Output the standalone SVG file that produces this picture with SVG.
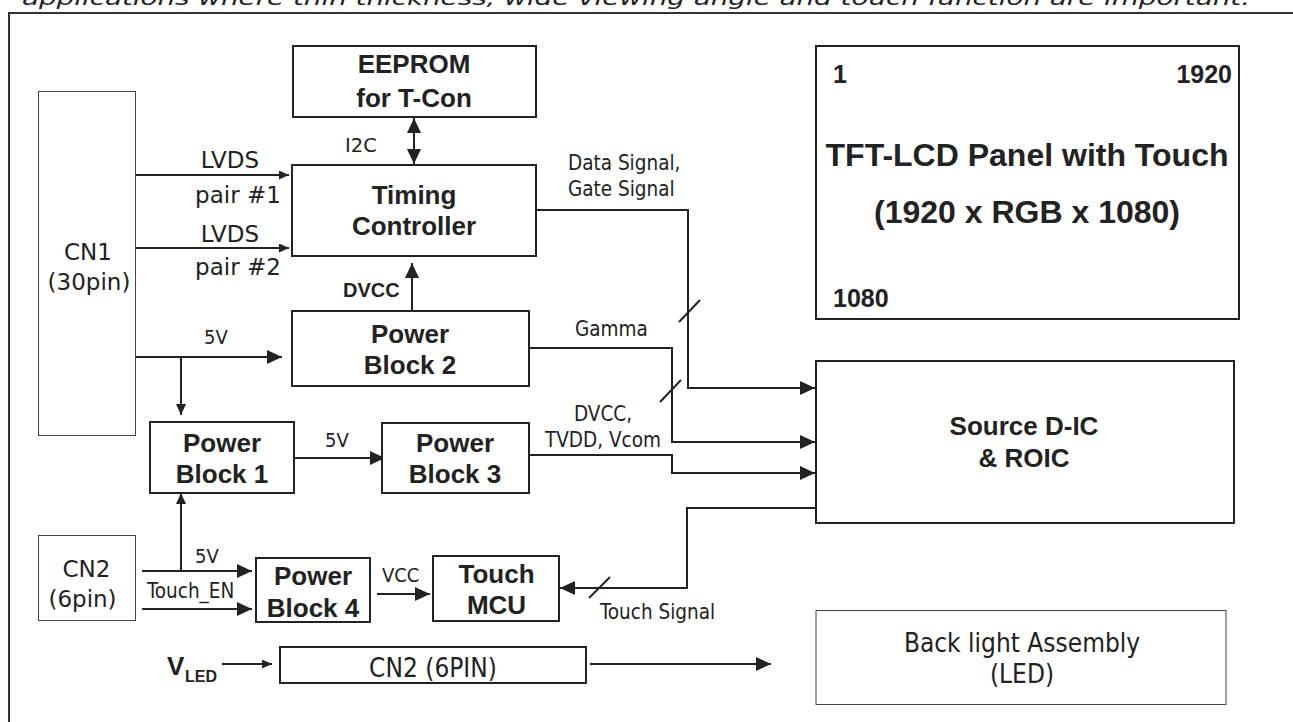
<svg xmlns="http://www.w3.org/2000/svg" width="1293" height="722" viewBox="0 0 1293 722">
<style>
.bx{fill:#fff;stroke:#222;stroke-width:2}
.th{fill:#fff;stroke:#444;stroke-width:1}
.ln{fill:none;stroke:#222;stroke-width:2}
.b{font-family:"Liberation Sans",Arial,sans-serif;font-weight:bold;fill:#222}
.v{font-family:"DejaVu Sans",Verdana,sans-serif;fill:#222}
.t{font-family:"DejaVu Sans Condensed","DejaVu Sans",sans-serif;font-stretch:condensed;fill:#222}
.m{text-anchor:middle}
.e{text-anchor:end}
</style>
<defs>
<marker id="big" viewBox="0 0 15 14" refX="15" refY="7" markerWidth="15" markerHeight="14" markerUnits="userSpaceOnUse" orient="auto-start-reverse"><path d="M0,0 L15,7 L0,14 z" fill="#222"/></marker>
<marker id="med" viewBox="0 0 11 10" refX="11" refY="5" markerWidth="11" markerHeight="10" markerUnits="userSpaceOnUse" orient="auto-start-reverse"><path d="M0,0 L11,5 L0,10 z" fill="#222"/></marker>
<marker id="sm" viewBox="0 0 10 9" refX="10" refY="4.5" markerWidth="10" markerHeight="9" markerUnits="userSpaceOnUse" orient="auto-start-reverse"><path d="M0,0 L10,4.5 L0,9 z" fill="#222"/></marker>
</defs>
<rect width="1293" height="722" fill="#fff"/>
<text x="22" y="5" font-family="DejaVu Sans, sans-serif" font-style="italic" font-size="20" fill="#222" textLength="1228" lengthAdjust="spacingAndGlyphs">applications where thin thickness, wide viewing angle and touch function are important.</text>
<path d="M9,722 V13 H1293" fill="none" stroke="#333" stroke-width="2"/>

<g id="connectors">
<path class="ln" d="M135,175 H289" marker-end="url(#sm)"/>
<path class="ln" d="M135,248 H289" marker-end="url(#sm)"/>
<path class="ln" d="M414,118 V164" marker-start="url(#big)" marker-end="url(#big)"/>
<path class="ln" d="M412,310 V263" marker-end="url(#big)"/>
<path class="ln" d="M536,210 H688 V388 H815" marker-end="url(#big)"/>
<path class="ln" d="M700,300 L679,322"/>
<path class="ln" d="M529,348 H672 V442 H815" marker-end="url(#big)"/>
<path class="ln" d="M681,380 L660,402"/>
<path class="ln" d="M529,455 H672 V473 H815" marker-end="url(#big)"/>
<path class="ln" d="M815,508 H687 V588 H560" marker-end="url(#big)"/>
<path class="ln" d="M610,577 L589,598"/>
<path class="ln" d="M135,357 H282" marker-end="url(#big)"/>
<path class="ln" d="M181,357 V415" marker-end="url(#med)"/>
<path class="ln" d="M294,458 H385" marker-end="url(#big)"/>
<path class="ln" d="M142,571 H252" marker-end="url(#big)"/>
<path class="ln" d="M181,571 V493" marker-end="url(#med)"/>
<path class="ln" d="M142,609 H252" marker-end="url(#big)"/>
<path class="ln" d="M377,594 H430" marker-end="url(#big)"/>
<path class="ln" d="M222,664 H272" marker-end="url(#sm)"/>
<path class="ln" d="M590,664 H771" marker-end="url(#big)"/>
</g>

<g id="labels">
<text class="v m" x="230" y="168" font-size="23">LVDS</text>
<text class="v m" x="238" y="203" font-size="23">pair #1</text>
<text class="v m" x="230" y="242" font-size="23">LVDS</text>
<text class="v m" x="238" y="275" font-size="23">pair #2</text>
<text class="v" x="345" y="152" font-size="19.5">I2C</text>
<text class="b" x="343" y="297" font-size="20">DVCC</text>
<text class="t" x="568" y="170" font-size="20.5">Data Signal,</text>
<text class="t" x="568" y="196" font-size="20.5">Gate Signal</text>
<text class="t" x="575" y="336" font-size="20.5">Gamma</text>
<text class="t m" x="603" y="421" font-size="20.5">DVCC,</text>
<text class="t" x="545" y="447" font-size="20.5">TVDD, Vcom</text>
<text class="t" x="204" y="344" font-size="20">5V</text>
<text class="t" x="325" y="447" font-size="20">5V</text>
<text class="t" x="195" y="563" font-size="20">5V</text>
<text class="t" x="147" y="598" font-size="20.5">Touch_EN</text>
<text class="t" x="382" y="582" font-size="20">VCC</text>
<text class="t" x="600" y="619" font-size="20.5">Touch Signal</text>
<text class="b" x="167" y="675" font-size="26">V</text>
<text class="b" x="185" y="682" font-size="16">LED</text>
</g>

<g id="cn1"><rect class="th" x="38.5" y="91.5" width="97" height="344"/>
<text class="v m" x="88" y="260" font-size="23">CN1</text>
<text class="v m" x="89" y="290" font-size="23">(30pin)</text></g>

<g id="eeprom"><rect class="bx" x="293" y="46" width="243" height="71"/>
<text class="b m" x="414" y="73" font-size="26">EEPROM</text>
<text class="b m" x="414" y="107" font-size="26">for T-Con</text></g>

<g id="tcon"><rect class="bx" x="292" y="165" width="244" height="91"/>
<text class="b m" x="414" y="204" font-size="26">Timing</text>
<text class="b m" x="414" y="235" font-size="26">Controller</text></g>

<g id="pb2"><rect class="bx" x="292" y="311" width="237" height="75"/>
<text class="b m" x="410" y="343" font-size="26">Power</text>
<text class="b m" x="410" y="374" font-size="26">Block 2</text></g>

<g id="pb1"><rect class="bx" x="150" y="422" width="144" height="71"/>
<text class="b m" x="222" y="452" font-size="26">Power</text>
<text class="b m" x="222" y="483" font-size="26">Block 1</text></g>

<g id="pb3"><rect class="bx" x="382" y="423" width="147" height="70"/>
<text class="b m" x="455" y="452" font-size="26">Power</text>
<text class="b m" x="455" y="483" font-size="26">Block 3</text></g>

<g id="cn2"><rect class="th" x="38.5" y="535.5" width="97" height="85"/>
<text class="v m" x="86.5" y="577" font-size="23">CN2</text>
<text class="v m" x="82.5" y="607" font-size="23">(6pin)</text></g>

<g id="pb4"><rect class="bx" x="256" y="558" width="114" height="64"/>
<text class="b m" x="313" y="585" font-size="26">Power</text>
<text class="b m" x="313" y="617" font-size="26">Block 4</text></g>

<g id="mcu"><rect class="bx" x="433" y="556" width="126" height="65"/>
<text class="b m" x="496.5" y="583" font-size="26">Touch</text>
<text class="b m" x="496.5" y="614" font-size="26">MCU</text></g>

<g id="cn2-6pin"><rect class="bx" x="280" y="647" width="306" height="36"/>
<text class="t m" x="433" y="677" font-size="26">CN2 (6PIN)</text></g>

<g id="panel"><rect class="bx" x="816" y="46" width="423" height="273"/>
<text class="b" x="833" y="83" font-size="25">1</text>
<text class="b e" x="1232" y="83" font-size="25">1920</text>
<text class="b" x="833" y="307" font-size="25">1080</text>
<text class="b m" x="1027" y="166" font-size="32">TFT-LCD Panel with Touch</text>
<text class="b m" x="1027" y="223" font-size="32">(1920 x RGB x 1080)</text></g>

<g id="source"><rect class="bx" x="816" y="361" width="418" height="162"/>
<text class="b m" x="1024" y="435" font-size="26">Source D-IC</text>
<text class="b m" x="1024" y="467" font-size="26">&amp; ROIC</text></g>

<g id="backlight"><rect class="th" x="816" y="610.5" width="410" height="94"/>
<text class="t m" x="1022" y="652" font-size="26">Back light Assembly</text>
<text class="t m" x="1022" y="683" font-size="26">(LED)</text></g>
</svg>
